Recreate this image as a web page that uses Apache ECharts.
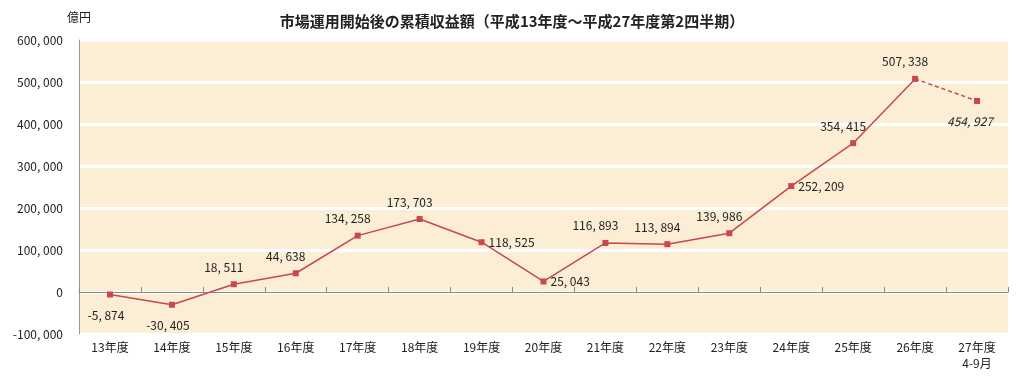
<!DOCTYPE html>
<html><head><meta charset="utf-8">
<script src="https://cdn.jsdelivr.net/npm/echarts@6/dist/echarts.min.js"></script>
<style>html,body{margin:0;padding:0;background:#fff}#c{width:1024px;height:380px}</style>
</head><body><div id="c"></div>
<script>
const categories = ['13年度','14年度','15年度','16年度','17年度','18年度','19年度','20年度','21年度','22年度','23年度','24年度','25年度','26年度','27年度\n4-9月'];
const values = [-5874, -30405, 18511, 44638, 134258, 173703, 118525, 25043, 116893, 113894, 139986, 252209, 354415, 507338, 454927];
const labelPos = ['bottom','bottom','topL','topL','topL','topL','right','right','topL','topL','topL','right','topL','topL','bottomL'];
const yTicks = {min: -100000, max: 600000, interval: 100000};

const font = '"Noto Sans CJK JP", "DejaVu Sans", sans-serif';
const red = '#c8484d';
const fmt = v => v.toLocaleString('en-US').replace(/,/g, ', ');

function lbl(pos) {
  const base = {show: true, color: '#222', fontSize: 12, fontFamily: font, formatter: p => fmt(p.value)};
  if (pos === 'bottom') return Object.assign(base, {position: 'bottom', distance: 12, offset: [-4, 0]});
  if (pos === 'topL') return Object.assign(base, {position: 'top', distance: 8, offset: [-10, 0]});
  if (pos === 'right') return Object.assign(base, {position: 'right', distance: 4});
  if (pos === 'bottomL') return Object.assign(base, {position: 'bottom', distance: 12, offset: [-7, 0], fontStyle: 'italic'});
  return base;
}

const last = values.length - 1;
const solidData = values.map((v, i) => i < last ? {value: v, label: lbl(labelPos[i])} : '-');
const dashData = values.map((v, i) => i === last ? {value: v, label: lbl(labelPos[i])} : (i === last - 1 ? {value: v, symbol: 'none'} : '-'));

const chart = echarts.init(document.getElementById('c'));
chart.setOption({
  animation: false,
  title: {text: '市場運用開始後の累積収益額（平成13年度～平成27年度第2四半期）', left: 'center', top: 9,
    textStyle: {fontSize: 15, fontWeight: 'bold', color: '#222', fontFamily: font}},
  grid: {left: 79, right: 16, top: 40, bottom: 46, show: true, backgroundColor: '#fbeed5', borderWidth: 0},
  xAxis: [
    {type: 'category', data: categories, boundaryGap: true, position: 'bottom',
     axisLine: {show: false, onZero: false}, axisTick: {show: false},
     axisLabel: {color: '#222', fontSize: 12, fontFamily: font, margin: 5, lineHeight: 16}},
    {type: 'category', data: categories, boundaryGap: true, position: 'bottom',
     axisLine: {show: true, onZero: true, lineStyle: {color: '#888', width: 1}},
     axisTick: {show: true, length: 5, inside: true, lineStyle: {color: '#888'}},
     axisLabel: {show: false}}
  ],
  yAxis: {type: 'value', min: yTicks.min, max: yTicks.max, interval: yTicks.interval,
    name: '億円', nameLocation: 'end', nameGap: 17,
    nameTextStyle: {color: '#222', fontSize: 12, fontFamily: font, align: 'center'},
    axisLine: {show: true, lineStyle: {color: '#999'}}, axisTick: {show: false},
    axisLabel: {color: '#222', fontSize: 12, fontFamily: font, margin: 16, formatter: v => fmt(v)},
    splitLine: {show: true, lineStyle: {color: '#ffffff', width: 3}}},
  series: [
    {type: 'line', xAxisIndex: 0, data: solidData, symbol: 'rect', symbolSize: 6,
     lineStyle: {color: red, width: 1.5}, itemStyle: {color: red}, connectNulls: false},
    {type: 'line', xAxisIndex: 0, data: dashData, symbol: 'rect', symbolSize: 6,
     lineStyle: {color: red, width: 1.5, type: [4, 3]}, itemStyle: {color: red}}
  ]
});
</script></body></html>
